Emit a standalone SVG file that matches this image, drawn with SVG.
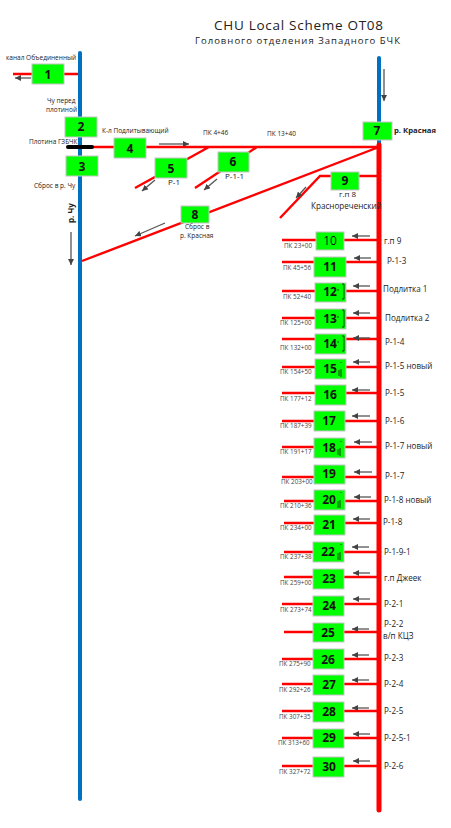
<svg xmlns="http://www.w3.org/2000/svg" width="451" height="828" viewBox="0 0 451 828">
<style>
.r{stroke:#f00;stroke-width:2.4;fill:none}
.b{stroke:#0070c0;stroke-width:4;fill:none;stroke-linecap:round}
.a{stroke:#555;stroke-width:1.3;fill:none;marker-end:url(#ah)}
.m{stroke:#111;stroke-width:.8;fill:none}
.n rect{fill:#0f0;stroke:#c4c4c4;stroke-width:1}
.n text{font:bold 12px "Open Sans","Liberation Sans",sans-serif;fill:#111;text-anchor:middle}
text{font-family:"Open Sans","Liberation Sans",sans-serif;fill:#222}
.s{font-size:6.5px}
.t{font-size:8.1px}
.u{font-size:8px}
.p{font-size:6.3px;fill:#444}
</style>
<defs><marker id="ah" markerUnits="userSpaceOnUse" markerWidth="7" markerHeight="6" refX="6" refY="3" orient="auto"><path d="M0 0L6 3L0 6Z" fill="#444"/></marker></defs>
<text x="214" y="30" font-size="13.5" fill="#1a2a4a" textLength="169">CHU Local Scheme OT08</text>
<text x="195" y="44" font-size="9.5" fill="#1a2a4a" textLength="205">Головного отделения Западного БЧК</text>
<g id="connectors">
<path class="b" d="M80 53V799M379 58V146"/>
<path d="M379 145V810" stroke="#f00" stroke-width="5" stroke-linecap="round" fill="none"/>
<path class="r" d="M13 74H78M93 147H379M135 188L209 147M195 188L257 147M82 261L379 147M379 176H320L280 218"/>
<path d="M68 147H92" stroke="#000" stroke-width="4" stroke-linecap="round"/>
<path class="r" d="M282 240H379M282 262H379M282 291H379M282 318H379M282 339H379M282 367H379M282 393H379M282 421H379M282 447H379M282 477H379M284 501H379M284 523H379M284 552H379M284 577H379M282 604H379M284 632H379M282 659H379M282 684H379M282 711H379M282 738H379M282 766H379"/>
<path class="a" d="M31 78H15"/><path class="a" d="M159 144H189"/><path class="a" d="M155 180L142 191"/><path class="a" d="M217 179L204 190"/><path class="a" d="M165 223L135 236"/><path class="a" d="M306 187L296 198"/><path class="a" d="M384 69V101"/><path class="a" d="M71 232V265"/>
<path class="a" d="M370 236H352"/><path class="a" d="M371 258H354"/><path class="a" d="M370 286H353"/><path class="a" d="M370 313H353"/><path class="a" d="M370 338H353"/><path class="a" d="M370 362H353"/><path class="a" d="M370 390H352"/><path class="a" d="M370 416H352"/><path class="a" d="M372 442H354"/><path class="a" d="M372 472H354"/><path class="a" d="M371 497H354"/><path class="a" d="M370 519H353"/><path class="a" d="M369 547H352"/><path class="a" d="M370 573H353"/><path class="a" d="M370 599H353"/><path class="a" d="M369 629H352"/><path class="a" d="M369 655H352"/><path class="a" d="M369 680H352"/><path class="a" d="M369 708H352"/><path class="a" d="M370 734H353"/><path class="a" d="M370 761H353"/>
</g>
<g id="n1" class="n"><rect x="32" y="64" width="32" height="20"/><text x="48" y="79">1</text></g>
<g id="n2" class="n"><rect x="65" y="117" width="32" height="20"/><text x="81" y="131">2</text></g>
<g id="n3" class="n"><rect x="66" y="156" width="32" height="20"/><text x="82" y="171">3</text></g>
<g id="n4" class="n"><rect x="114" y="138" width="32" height="20"/><text x="130" y="153">4</text></g>
<g id="n5" class="n"><rect x="155" y="158" width="32" height="20"/><text x="171" y="173">5</text></g>
<g id="n6" class="n"><rect x="218" y="152" width="31" height="20"/><text x="233" y="166">6</text></g>
<g id="n7" class="n"><rect x="363" y="122" width="29" height="18"/><text x="377" y="135">7</text></g>
<g id="n8" class="n"><rect x="181" y="206" width="28" height="17"/><text x="195" y="219">8</text></g>
<g id="n9" class="n"><rect x="331" y="172" width="28" height="18"/><text x="345" y="185">9</text></g>
<g id="n10" class="n"><rect x="316" y="232" width="28" height="18"/><text x="330" y="245" style="font-weight:400">10</text></g>
<g id="n11" class="n"><rect x="314" y="257" width="32" height="20"/><text x="330" y="271">11</text></g>
<g id="n12" class="n"><rect x="315" y="283" width="31" height="19"/><text x="330" y="296">12</text><path class="m" d="M337 290H339M342 284H344V299H342"/></g>
<g id="n13" class="n"><rect x="315" y="309" width="31" height="20"/><text x="330" y="323">13</text><path class="m" d="M337 317H339M342 310H344V327H342"/></g>
<g id="n14" class="n"><rect x="315" y="334" width="31" height="20"/><text x="330" y="348">14</text><path class="m" d="M337 342H339M342 336H344V351H342"/></g>
<g id="n15" class="n"><rect x="315" y="359" width="31" height="20"/><text x="330" y="373">15</text><path class="m" d="M339 370V376M341 369V377M341 362V363"/></g>
<g id="n16" class="n"><rect x="315" y="385" width="31" height="20"/><text x="330" y="399">16</text></g>
<g id="n17" class="n"><rect x="314" y="411" width="31" height="20"/><text x="329" y="425">17</text></g>
<g id="n18" class="n"><rect x="314" y="438" width="31" height="20"/><text x="329" y="452">18</text><path class="m" d="M338 449V455M340 448V456M341 441V442"/></g>
<g id="n19" class="n"><rect x="314" y="465" width="31" height="19"/><text x="329" y="478">19</text></g>
<g id="n20" class="n"><rect x="314" y="490" width="31" height="20"/><text x="329" y="504">20</text><path class="m" d="M338 501V508M340 500V508M341 492V493"/></g>
<g id="n21" class="n"><rect x="314" y="515" width="31" height="20"/><text x="329" y="529">21</text></g>
<g id="n22" class="n"><rect x="313" y="542" width="31" height="20"/><text x="328" y="556">22</text><path class="m" d="M338 553V560M340 552V560M341 544V545"/></g>
<g id="n23" class="n"><rect x="313" y="569" width="31" height="20"/><text x="329" y="583">23</text></g>
<g id="n24" class="n"><rect x="313" y="596" width="31" height="20"/><text x="329" y="610">24</text></g>
<g id="n25" class="n"><rect x="313" y="623" width="31" height="19"/><text x="328" y="637">25</text></g>
<g id="n26" class="n"><rect x="313" y="649" width="31" height="20"/><text x="328" y="664">26</text></g>
<g id="n27" class="n"><rect x="313" y="675" width="31" height="20"/><text x="329" y="689">27</text></g>
<g id="n28" class="n"><rect x="313" y="702" width="31" height="20"/><text x="329" y="716">28</text></g>
<g id="n29" class="n"><rect x="313" y="729" width="31" height="19"/><text x="329" y="742">29</text></g>
<g id="n30" class="n"><rect x="313" y="757" width="31" height="20"/><text x="329" y="771">30</text></g>
<g id="labels">
<text class="s" x="6" y="60">канал Объединенный</text>
<text class="s" x="47" y="103">Чу перед</text><text class="s" x="46" y="112">плотиной</text>
<text class="s" x="29" y="144">Плотина ГЗБЧК</text>
<text class="s" x="102" y="133">К-л Подлитывающий</text>
<text class="s" x="203" y="135">ПК 4+46</text><text class="s" x="267" y="136">ПК 13+40</text>
<text class="s" x="34" y="188">Сброс в р. Чу</text>
<text class="u" x="168" y="185">Р-1</text><text class="u" x="225" y="179">Р-1-1</text>
<text class="u" font-weight="700" transform="translate(74 223) rotate(-90)">р. Чу</text>
<text class="s" x="185" y="229">Сброс в</text><text class="s" x="180" y="238">р. Красная</text>
<text x="394" y="133" font-size="7.7" font-weight="700">р. Красная</text>
<text class="u" x="339" y="197">г.п 8</text>
<text class="t" x="311" y="209">Краснореченский</text>
<text class="t" x="384" y="244">г.п 9</text><text class="t" x="387" y="264">Р-1-3</text><text class="t" x="383" y="292">Подлитка 1</text><text class="t" x="385" y="321">Подлитка 2</text><text class="t" x="385" y="345">Р-1-4</text><text class="t" x="385" y="369">Р-1-5 новый</text><text class="t" x="385" y="396">Р-1-5</text><text class="t" x="385" y="424">Р-1-6</text><text class="t" x="385" y="449">Р-1-7 новый</text><text class="t" x="385" y="479">Р-1-7</text><text class="t" x="384" y="503">Р-1-8 новый</text><text class="t" x="383" y="525">Р-1-8</text><text class="t" x="384" y="555">Р-1-9-1</text><text class="t" x="384" y="581">г.п Джеек</text><text class="t" x="384" y="607">Р-2-1</text><text class="t" x="384" y="627">Р-2-2</text><text class="t" x="383" y="639">в/п КЦЗ</text><text class="t" x="384" y="661">Р-2-3</text><text class="t" x="384" y="687">Р-2-4</text><text class="t" x="384" y="714">Р-2-5</text><text class="t" x="384" y="741">Р-2-5-1</text><text class="t" x="384" y="769">Р-2-6</text>
<text class="p" x="284" y="248">ПК 23+00</text><text class="p" x="283" y="270">ПК 45+56</text><text class="p" x="283" y="299">ПК 52+40</text><text class="p" x="280" y="325">ПК 125+00</text><text class="p" x="280" y="350">ПК 132+00</text><text class="p" x="280" y="374">ПК 154+50</text><text class="p" x="280" y="401">ПК 177+12</text><text class="p" x="280" y="428">ПК 187+39</text><text class="p" x="280" y="454">ПК 191+17</text><text class="p" x="281" y="484">ПК 203+00</text><text class="p" x="280" y="508">ПК 210+36</text><text class="p" x="280" y="530">ПК 234+00</text><text class="p" x="280" y="559">ПК 237+38</text><text class="p" x="280" y="585">ПК 259+00</text><text class="p" x="280" y="612">ПК 273+74</text><text class="p" x="279" y="666">ПК 275+90</text><text class="p" x="279" y="692">ПК 292+26</text><text class="p" x="279" y="719">ПК 307+35</text><text class="p" x="278" y="745">ПК 313+60</text><text class="p" x="279" y="774">ПК 327+72</text>
</g>
</svg>
